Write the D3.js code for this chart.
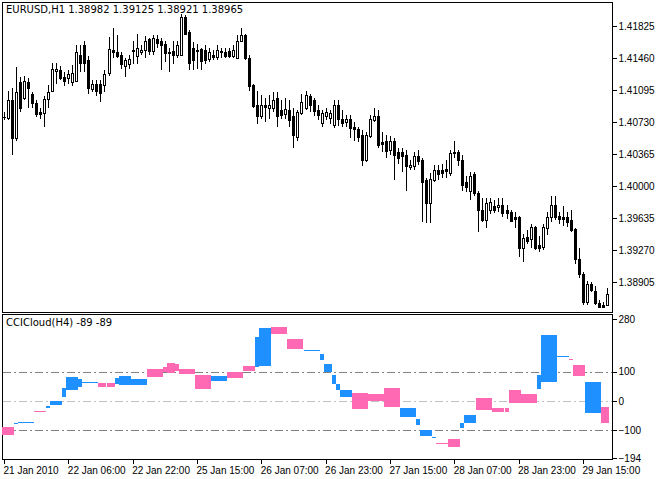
<!DOCTYPE html>
<html>
<head>
<meta charset="utf-8">
<script src="https://cdn.jsdelivr.net/npm/d3@7"></script>
<style>
  body { margin: 0; background: #fff; }
  svg { display: block; font-family: "DejaVu Sans", sans-serif; font-size: 10px; }
  .axis path.domain { display: none; }
  .axis line { stroke: #000; shape-rendering: crispEdges; }
  .axis text { fill: #000; font-size: 10px; }
</style>
</head>
<body>
<svg id="chart" width="663" height="479"></svg>
<script>
// EURUSD H1 candles
const open = [1.4079,1.4077,1.4098,1.4055,1.4119,1.4101,1.4119,1.4105,1.4095,1.4085,
  1.4083,1.4099,1.4108,1.4132,1.4132,1.4125,1.4123,1.4119,1.4120,1.4149,
  1.4161,1.4144,1.4111,1.4117,1.4116,1.4115,1.4129,1.4155,1.4153,1.4149,
  1.4137,1.4139,1.4154,1.4149,1.4153,1.4155,1.4168,1.4154,1.4168,1.4165,
  1.4162,1.4152,1.4154,1.4150,1.4150,1.4193,1.4176,1.4158,1.4154,1.4156,
  1.4155,1.4145,1.4150,1.4147,1.4154,1.4153,1.4154,1.4148,1.4147,1.4165,
  1.4172,1.4146,1.4115,1.4092,1.4080,1.4092,1.4089,1.4089,1.4100,1.4087,
  1.4082,1.4087,1.4080,1.4056,1.4083,1.4089,1.4103,1.4098,1.4087,1.4072,
  1.4080,1.4077,1.4069,1.4093,1.4077,1.4074,1.4077,1.4067,1.4065,1.4058,
  1.4030,1.4058,1.4075,1.4080,1.4050,1.4052,1.4041,1.4052,1.4039,1.4039,
  1.4035,1.4022,1.4023,1.4034,1.4030,1.4007,1.3981,1.4008,1.4019,1.4018,
  1.4020,1.4015,1.4038,1.4039,1.4030,1.4005,1.3995,1.4014,1.3992,1.3973,
  1.3962,1.3973,1.3977,1.3976,1.3978,1.3973,1.3971,1.3965,1.3965,1.3930,
  1.3942,1.3940,1.3954,1.3933,1.3930,1.3953,1.3965,1.3979,1.3966,1.3965,
  1.3965,1.3962,1.3951,1.3917,1.3900,1.3868,1.3888,1.3881,1.3867,1.3865,1.3864];
const high = [1.4084,1.4109,1.4112,1.4136,1.4124,1.4126,1.4123,1.4107,1.4098,1.4089,
  1.4103,1.4115,1.4140,1.4140,1.4137,1.4130,1.4132,1.4138,1.4161,1.4161,
  1.4165,1.4148,1.4121,1.4121,1.4121,1.4132,1.4170,1.4180,1.4172,1.4153,
  1.4146,1.4149,1.4166,1.4174,1.4161,1.4171,1.4169,1.4172,1.4172,1.4169,
  1.4165,1.4157,1.4166,1.4166,1.4196,1.4195,1.4178,1.4164,1.4162,1.4157,
  1.4161,1.4157,1.4155,1.4161,1.4157,1.4157,1.4158,1.4161,1.4172,1.4180,
  1.4174,1.4149,1.4116,1.4109,1.4104,1.4100,1.4104,1.4107,1.4107,1.4098,
  1.4100,1.4098,1.4089,1.4087,1.4105,1.4109,1.4105,1.4100,1.4093,1.4087,
  1.4089,1.4087,1.4098,1.4098,1.4087,1.4081,1.4081,1.4073,1.4068,1.4064,
  1.4062,1.4081,1.4089,1.4087,1.4062,1.4058,1.4057,1.4055,1.4043,1.4043,
  1.4041,1.4030,1.4039,1.4041,1.4032,1.4009,1.4015,1.4024,1.4024,1.4025,
  1.4030,1.4041,1.4052,1.4041,1.4035,1.4012,1.4016,1.4016,1.3995,1.3986,
  1.3986,1.3987,1.3984,1.3986,1.3987,1.3978,1.3973,1.3970,1.3966,1.3945,
  1.3950,1.3957,1.3955,1.3943,1.3957,1.3970,1.3989,1.3989,1.3970,1.3977,
  1.3970,1.3973,1.3952,1.3929,1.3902,1.3892,1.3891,1.3886,1.3870,1.3868,1.3884];
const low = [1.4075,1.4075,1.4035,1.4052,1.4084,1.4098,1.4089,1.4089,1.4079,1.4077,
  1.4067,1.4089,1.4107,1.4116,1.4121,1.4114,1.4116,1.4114,1.4119,1.4130,
  1.4130,1.4105,1.4107,1.4103,1.4096,1.4107,1.4126,1.4146,1.4146,1.4134,
  1.4125,1.4134,1.4139,1.4139,1.4149,1.4146,1.4150,1.4149,1.4157,1.4132,
  1.4141,1.4130,1.4139,1.4146,1.4148,1.4172,1.4132,1.4132,1.4134,1.4132,
  1.4139,1.4141,1.4144,1.4144,1.4146,1.4146,1.4146,1.4146,1.4146,1.4164,
  1.4144,1.4109,1.4089,1.4071,1.4077,1.4073,1.4077,1.4084,1.4068,1.4077,
  1.4077,1.4068,1.4043,1.4052,1.4081,1.4087,1.4084,1.4080,1.4075,1.4068,
  1.4075,1.4071,1.4066,1.4069,1.4067,1.4068,1.4055,1.4052,1.4050,1.4023,
  1.4027,1.4055,1.4073,1.4043,1.4039,1.4032,1.4035,1.4007,1.4025,1.4016,
  1.3995,1.4018,1.4018,1.4024,1.3959,1.3958,1.3958,1.4005,1.4007,1.4009,
  1.4009,1.4012,1.4032,1.4023,1.3995,1.3993,1.3984,1.3989,1.3948,1.3959,
  1.3952,1.3968,1.3969,1.3970,1.3965,1.3963,1.3959,1.3952,1.3919,1.3913,
  1.3934,1.3929,1.3927,1.3925,1.3927,1.3944,1.3959,1.3961,1.3957,1.3955,
  1.3954,1.3948,1.3911,1.3895,1.3865,1.3865,1.3879,1.3864,1.3862,1.3862,1.3863];
const close = [1.4079,1.4098,1.4055,1.4107,1.4089,1.4120,1.4112,1.4095,1.4083,1.4083,
  1.4099,1.4107,1.4133,1.4134,1.4123,1.4121,1.4128,1.4129,1.4153,1.4140,
  1.4140,1.4112,1.4117,1.4109,1.4106,1.4128,1.4156,1.4153,1.4149,1.4139,
  1.4144,1.4145,1.4155,1.4158,1.4155,1.4165,1.4154,1.4169,1.4163,1.4161,
  1.4152,1.4153,1.4150,1.4161,1.4193,1.4174,1.4141,1.4144,1.4155,1.4142,
  1.4144,1.4153,1.4148,1.4155,1.4153,1.4148,1.4148,1.4155,1.4166,1.4172,
  1.4146,1.4114,1.4091,1.4080,1.4092,1.4090,1.4092,1.4098,1.4080,1.4081,
  1.4088,1.4076,1.4058,1.4084,1.4096,1.4104,1.4093,1.4085,1.4081,1.4083,
  1.4084,1.4083,1.4092,1.4077,1.4073,1.4077,1.4067,1.4065,1.4056,1.4030,
  1.4058,1.4077,1.4080,1.4047,1.4048,1.4041,1.4051,1.4036,1.4032,1.4034,
  1.4022,1.4024,1.4034,1.4028,1.4005,1.3981,1.4008,1.4019,1.4014,1.4015,
  1.4018,1.4038,1.4039,1.4030,1.4002,1.3999,1.4012,1.3992,1.3973,1.3962,
  1.3981,1.3982,1.3973,1.3978,1.3969,1.3970,1.3961,1.3963,1.3930,1.3941,
  1.3938,1.3954,1.3930,1.3930,1.3953,1.3965,1.3979,1.3965,1.3963,1.3963,
  1.3959,1.3951,1.3917,1.3900,1.3868,1.3888,1.3881,1.3867,1.3863,1.3863,1.3877];

// CCICloud(H4): two lines per H1 bar, the cloud fills between them
const cciFast = [-116,-116,-116,-76,-72,-72,-72,-72,-40,-40,
  -40,-15,0,0,0,45,82,82,82,75,
  66,66,66,66,48,48,48,48,80,85,
  85,85,75,75,75,75,82,82,82,82,
  100,96,96,100,92,92,92,92,41,41,
  41,41,85,85,85,85,78,78,78,78,
  102,102,102,220,249,249,249,229,229,229,
  229,177,177,177,177,175,175,175,175,160,
  126,126,89,60,38,38,38,-27,-27,-27,
  -27,0,0,0,0,-20,-20,-20,-20,-24,
  -24,-24,-24,-60,-99,-99,-99,-124,-144,-144,
  -144,-157,-157,-157,-75,-48,-48,-48,-31,-31,
  -31,-31,-38,-38,-38,-38,-7,-7,-7,-7,
  -7,-7,-7,90,225,225,225,225,155,155,
  155,140,85,85,85,65,65,65,65,-75,-75];
const cciSlow = [-89,-89,-89,-78,-73,-73,-73,-73,-35,-35,
  -35,-22,-13,-13,-13,15,38,38,38,48,
  64,64,64,64,61,61,61,61,58,55,
  55,55,55,55,55,55,109,109,109,109,
  118,130,130,125,109,109,109,109,89,89,
  89,89,68,68,68,68,99,99,99,99,
  119,119,119,119,119,119,119,252,252,252,
  252,212,212,212,212,173,173,173,173,140,
  99,99,60,38,14,14,14,27,27,27,
  27,24,24,24,24,44,44,44,44,-55,
  -55,-55,-55,-80,-119,-119,-119,-126,-142,-142,
  -142,-130,-130,-130,-92,-75,-75,-75,10,10,
  10,10,-24,-24,-24,-24,38,38,38,24,
  24,24,24,41,65,65,65,65,153,153,
  153,142,122,122,122,-41,-41,-41,-41,-20,-20];

const priceTicks = [1.41825, 1.41460, 1.41095, 1.40730, 1.40365, 1.40000, 1.39635, 1.39270, 1.38905];
const cciTicks = [280, 100, 0, -100, -194];
const cciLevels = [100, 0, -100];
const timeTickBars = [0, 16, 32, 48, 64, 80, 96, 112, 128, 144];
const timeTickLabels = ["21 Jan 2010", "22 Jan 06:00", "22 Jan 22:00", "25 Jan 15:00", "26 Jan 07:00",
  "26 Jan 23:00", "27 Jan 15:00", "28 Jan 07:00", "28 Jan 23:00", "29 Jan 15:00"];

const svg = d3.select("#chart")
const left = 2, right = 612
const main = {top: 2, bottom: 312}
const sub = {top: 314, bottom: 459}

const x = d3.scaleLinear().domain([0, 150]).range([4, 607])
const y = d3.scaleLinear().domain([1.38577, 1.42088]).range([311, 3])
const yc = d3.scaleLinear().domain([-194, 280]).range([458, 319])

// panel frames
svg.append("rect").attr("x", left + 0.5).attr("y", main.top + 0.5)
  .attr("width", right - left).attr("height", main.bottom - main.top)
  .attr("fill", "#fff").attr("stroke", "#000").attr("shape-rendering", "crispEdges")
svg.append("rect").attr("x", left + 0.5).attr("y", sub.top + 0.5)
  .attr("width", right - left).attr("height", sub.bottom - sub.top)
  .attr("fill", "#fff").attr("stroke", "#000").attr("shape-rendering", "crispEdges")

// level lines in the indicator window
svg.append("g").selectAll("line").data(cciLevels).join("line")
  .attr("x1", left + 1).attr("x2", right)
  .attr("y1", d => Math.round(yc(d)) + 0.5).attr("y2", d => Math.round(yc(d)) + 0.5)
  .attr("stroke", d => d === 0 ? "#c0c0c0" : "#808080")
  .attr("stroke-dasharray", "8,3,2,3")
  .attr("shape-rendering", "crispEdges")

// cloud
const bars = d3.range(open.length)
svg.append("g").selectAll("rect").data(bars).join("rect")
  .attr("x", i => Math.round(x(i)) - 2)
  .attr("width", 4)
  .attr("y", i => Math.round(yc(Math.max(cciFast[i], cciSlow[i]))))
  .attr("height", i => Math.max(1, Math.abs(yc(cciFast[i]) - yc(cciSlow[i]))))
  .attr("fill", i => cciFast[i] >= cciSlow[i] ? "#1e90ff" : "#ff69b4")
  .attr("shape-rendering", "crispEdges")

// candles
const candles = svg.append("g").attr("shape-rendering", "crispEdges")
candles.selectAll("line").data(bars).join("line")
  .attr("x1", i => Math.round(x(i)) + 0.5).attr("x2", i => Math.round(x(i)) + 0.5)
  .attr("y1", i => Math.round(y(high[i]))).attr("y2", i => Math.round(y(low[i])))
  .attr("stroke", "#000")
candles.selectAll("rect").data(bars).join("rect")
  .attr("x", i => Math.round(x(i)) - 0.5)
  .attr("width", 2)
  .attr("y", i => Math.round(y(Math.max(open[i], close[i]))) + 0.5)
  .attr("height", i => Math.max(0.01, Math.round(Math.abs(y(open[i]) - y(close[i])))))
  .attr("fill", i => close[i] >= open[i] ? "#fff" : "#000")
  .attr("stroke", "#000")

// axes
const priceAxis = svg.append("g").attr("class", "axis")
  .attr("transform", `translate(${right + 0.5},0)`)
  .call(d3.axisRight(y).tickValues(priceTicks).tickSize(4).tickPadding(2).tickFormat(d3.format(".5f")))
const cciAxis = svg.append("g").attr("class", "axis")
  .attr("transform", `translate(${right + 0.5},0)`)
  .call(d3.axisRight(yc).tickValues(cciTicks).tickSize(4).tickPadding(2).tickFormat(d3.format("d")))
svg.append("g").attr("class", "axis")
  .attr("transform", `translate(0,${sub.bottom + 0.5})`)
  .call(d3.axisBottom(x).tickValues(timeTickBars).tickSize(4).tickPadding(3)
    .tickFormat((d, k) => timeTickLabels[k]))
  .selectAll("text").attr("text-anchor", "start").attr("dx", -1)

// labels
svg.append("text").attr("x", 6).attr("y", 13).text("EURUSD,H1  1.38982 1.39125 1.38921 1.38965")
svg.append("text").attr("x", 6).attr("y", 326).text("CCICloud(H4) -89 -89")
</script>
</body>
</html>
